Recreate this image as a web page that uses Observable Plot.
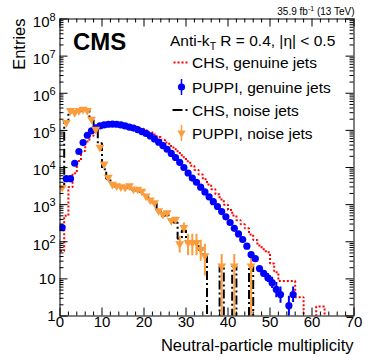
<!DOCTYPE html>
<html><head><meta charset="utf-8">
<script src="https://cdn.jsdelivr.net/npm/d3@7"></script>
<script src="https://cdn.jsdelivr.net/npm/@observablehq/plot@0.6"></script>
<style>
html,body{margin:0;padding:0;background:#fff;}
#chart{width:374px;height:363px;}
</style>
</head><body><div id="chart"></div>
<script>
// ---- data: entries per bin of width 1 (bin i spans [i, i+1)) ----
const chsGenuine = [56, 500, 3000, 7000, 15000, 28000, 50000, 72000, 95000, 117000,
  135000, 145000, 151000, 153000, 151000, 146000, 138000, 129000, 120000, 110000,
  100000, 89000, 78000, 66000, 56000, 47000, 38000, 31000, 24500, 19000,
  14800, 11200, 8500, 6500, 4800, 3500, 2600, 1900, 1380, 1000,
  720, 510, 380, 295, 230, 158, 112, 79, 63, 52,
  26, 15, 8.7, 8.7, 8.7, 8.7, 3.2, 3.2, 0, 0,
  0, 1.8, 1.8];
const puppiGenuine = [240, 5000, 5000, 13000, 27000, 47000, 74000, 97000, 117000, 132000,
  141000, 146000, 148000, 146000, 140000, 132000, 123000, 115000, 105000, 93000,
  83000, 71000, 59000, 48000, 39000, 31000, 24000, 18600, 13800, 10000,
  7100, 5200, 4000, 2950, 2200, 1620, 1200, 890, 650, 470,
  330, 230, 162, 115, 76, 45, 35, 19, 14, 10.7,
  7.9, 5.2, 3.8, 0, 1.9, 3.8];
const puppiGenuineErrBins = [49, 50, 51, 52, 54, 55];
const puppiGenuineErrLo = [8, 5.5, 3.1, 2.2, 0.5, 2.3];
const puppiGenuineErrHi = [14, 11, 8, 6, 3.4, 6];
const chsNoise = [2900, 175000, 330000, 320000, 330000, 360000, 350000, 190000, 100000, 45000,
  9000, 5000, 3500, 3100, 3000, 2800, 3100, 2500, 2400, 2200,
  1700, 1400, 1100, 700, 500, 520, 380, 330, 120, 200,
  95, 95, 95, 60, 42, 0, 0, 0, 22, 0,
  0, 22, 0, 0, 0, 22];
const puppiNoise = [2900, 162000, 340000, 300000, 340000, 370000, 340000, 200000, 107000, 35000,
  12300, 5400, 3500, 3200, 3000, 2900, 3200, 2600, 2600, 2300,
  1700, 1320, 1120, 680, 550, 600, 370, 400, 88, 240,
  95, 95, 95, 63, 42, 0, 0, 0, 22, 0,
  0, 22, 0, 0, 0, 22];
const puppiNoiseErrBins = [28, 29, 30, 31, 32, 33, 34, 38, 41, 45];
const puppiNoiseErrLo = [50, 170, 42, 42, 42, 30, 12, 0.5, 0.5, 0.5];
const puppiNoiseErrHi = [140, 320, 160, 160, 160, 110, 85, 45, 45, 45];

const xTicksMajor = [0, 10, 20, 30, 40, 50, 60, 70];
const yTicksMajor = [1, 10, 1e2, 1e3, 1e4, 1e5, 1e6, 1e7, 1e8];

const legendTitle = ["Anti-k", "T", " R = 0.4, |\u03b7| < 0.5"];
const legendLabels = ["CHS, genuine jets", "PUPPI, genuine jets", "CHS, noise jets", "PUPPI, noise jets"];
const xTitle = "Neutral-particle multiplicity";
const yTitle = "Entries";
const lumiText = ["35.9 fb", "-1", " (13 TeV)"];
const expText = "CMS";

// ---- derived tables ----
const FONT = "'Liberation Sans', Arial, Helvetica, sans-serif";
const RED = "#ff0000", BLUE = "#0000ff", ORANGE = "#fb9d3c";
const FLOOR = 0.2; // empty bins drawn below the axis (clipped)
function steps(vals, upTo) {
  const pts = [];
  for (let i = 0; i < upTo; i++) {
    const v = i < vals.length && vals[i] > 0 ? vals[i] : FLOOR;
    pts.push({x: i, y: v}, {x: i + 1, y: v});
  }
  return pts;
}
const pointsOf = vals => vals.map((v, i) => ({x: i + 0.5, y: v})).filter(d => d.y > 0);
const errsOf = (bins, lo, hi) => bins.map((b, k) => ({x: b + 0.5, lo: lo[k], hi: hi[k]}));
const yMinor = [];
for (let d = 0; d < 8; d++) for (let m = 2; m <= 9; m++) yMinor.push(m * Math.pow(10, d));
const xMinor = d3.range(0, 71, 2).filter(v => v % 10 !== 0);

const triDown = {draw(ctx, size) {
  const y = Math.sqrt(size / (Math.sqrt(3) * 3));
  ctx.moveTo(0, 2 * y); ctx.lineTo(-Math.sqrt(3) * y, -y); ctx.lineTo(Math.sqrt(3) * y, -y); ctx.closePath();
}};

const W = 374, H = 363, ML = 59.5, MR = 20.5, MT = 18.5, MB = 47.5;
const FW = W - ML - MR, FH = H - MT - MB;

function annotations(index, scales, values, dims) {
  const L = dims.marginLeft, T = dims.marginTop, R = dims.width - dims.marginRight, B = dims.height - dims.marginBottom;
  const g = d3.create("svg:g").attr("font-family", FONT).attr("fill", "black").attr("text-anchor", "start");
  // lumi
  const lt = g.append("text").attr("x", R + 1).attr("y", T - 4).attr("text-anchor", "end").attr("font-size", 10);
  lt.append("tspan").text(lumiText[0]);
  lt.append("tspan").attr("font-size", 7).attr("dy", -4).text(lumiText[1]);
  lt.append("tspan").attr("dy", 4).text(lumiText[2]);
  // CMS
  g.append("text").attr("x", L + 13.5).attr("y", T + 31).attr("font-size", 24).attr("font-weight", "bold").text(expText);
  // legend title
  const tt = g.append("text").attr("x", L + 110.5).attr("y", T + 27).attr("font-size", 15.5);
  tt.append("tspan").text(legendTitle[0]);
  tt.append("tspan").attr("font-size", 10.5).attr("dy", 4).text(legendTitle[1]);
  tt.append("tspan").attr("dy", -4).text(legendTitle[2]);
  // entries
  const rows = [44, 68.5, 91.5, 114.5];
  const sx = L + 122, tx = L + 132.5;
  rows.forEach((ry, k) => {
    g.append("text").attr("x", tx).attr("y", T + ry + 5.5).attr("font-size", 15.5).text(legendLabels[k]);
  });
  const y0 = T + rows[0];
  g.append("line").attr("x1", sx - 8).attr("x2", sx + 7).attr("y1", y0).attr("y2", y0)
    .attr("stroke", RED).attr("stroke-width", 2).attr("stroke-dasharray", "2,2");
  const y1 = T + rows[1];
  g.append("line").attr("x1", sx).attr("x2", sx).attr("y1", y1 - 8).attr("y2", y1 + 8).attr("stroke", BLUE).attr("stroke-width", 1.5);
  g.append("circle").attr("cx", sx).attr("cy", y1).attr("r", 3.6).attr("fill", BLUE);
  const y2 = T + rows[2];
  g.append("line").attr("x1", sx - 9).attr("x2", sx + 7).attr("y1", y2).attr("y2", y2)
    .attr("stroke", "black").attr("stroke-width", 2).attr("stroke-dasharray", "10,3,2,3");
  const y3 = T + rows[3];
  g.append("line").attr("x1", sx).attr("x2", sx).attr("y1", y3 - 8).attr("y2", y3 + 8).attr("stroke", ORANGE).attr("stroke-width", 1.5);
  const p = d3.path(); triDown.draw(p, 30);
  g.append("path").attr("d", p.toString()).attr("transform", `translate(${sx},${y3})`).attr("fill", ORANGE);
  // axis titles
  g.append("text").attr("x", R).attr("y", B + 35.5).attr("text-anchor", "end").attr("font-size", 16.5).text(xTitle);
  g.append("text").attr("transform", `translate(${L - 34.5},${T}) rotate(-90)`).attr("text-anchor", "end").attr("font-size", 16.5).text(yTitle);
  return g.node();
}

const chart = Plot.plot({
  width: W, height: H,
  marginLeft: ML, marginRight: MR, marginTop: MT, marginBottom: MB,
  style: {fontFamily: FONT, background: "white", color: "black"},
  x: {domain: [0, 70], axis: null},
  y: {type: "log", domain: [1, 1e8], axis: null},
  marks: [
    // histograms
    Plot.line(steps(chsNoise, 70), {x: "x", y: "y", stroke: "black", strokeWidth: 2, strokeDasharray: "9,3,2,3", strokeLinecap: "butt", strokeLinejoin: "miter", clip: true}),
    Plot.line(steps(chsGenuine, 70), {x: "x", y: "y", stroke: RED, strokeWidth: 2, strokeDasharray: "2,2", strokeLinecap: "butt", strokeLinejoin: "miter", clip: true}),
    // error bars
    Plot.ruleX(errsOf(puppiNoiseErrBins, puppiNoiseErrLo, puppiNoiseErrHi), {x: "x", y1: "lo", y2: "hi", stroke: ORANGE, strokeWidth: 2, clip: true}),
    Plot.ruleX(errsOf(puppiGenuineErrBins, puppiGenuineErrLo, puppiGenuineErrHi), {x: "x", y1: "lo", y2: "hi", stroke: BLUE, strokeWidth: 2, clip: true}),
    // points
    Plot.dot(pointsOf(puppiGenuine), {x: "x", y: "y", r: 3.6, fill: BLUE, stroke: "none", clip: true}),
    Plot.dot(pointsOf(puppiNoise), {x: "x", y: "y", r: 3.3, symbol: triDown, fill: ORANGE, stroke: "none", clip: true}),
    // ticks (inward, all four sides)
    Plot.tickY(yTicksMajor, {y: d => d, insetRight: FW - 8, stroke: "black"}),
    Plot.tickY(yTicksMajor, {y: d => d, insetLeft: FW - 8, stroke: "black"}),
    Plot.tickY(yMinor, {y: d => d, insetRight: FW - 4, stroke: "black"}),
    Plot.tickY(yMinor, {y: d => d, insetLeft: FW - 4, stroke: "black"}),
    Plot.tickX(xTicksMajor, {x: d => d, insetTop: FH - 8, stroke: "black"}),
    Plot.tickX(xTicksMajor, {x: d => d, insetBottom: FH - 8, stroke: "black"}),
    Plot.tickX(xMinor, {x: d => d, insetTop: FH - 4, stroke: "black"}),
    Plot.tickX(xMinor, {x: d => d, insetBottom: FH - 4, stroke: "black"}),
    Plot.frame({stroke: "black", strokeWidth: 1}),
    // tick labels
    Plot.text(yTicksMajor.filter(v => v >= 100), {y: d => d, frameAnchor: "left", text: () => "10", textAnchor: "end", dx: -10.5, dy: 3, fontSize: 15, fill: "black"}),
    Plot.text(yTicksMajor.filter(v => v >= 100), {y: d => d, frameAnchor: "left", text: d => String(Math.round(Math.log10(d))), textAnchor: "end", dx: -4.5, dy: -2, fontSize: 11, fill: "black"}),
    Plot.text(yTicksMajor.filter(v => v < 100), {y: d => d, frameAnchor: "left", text: d => String(d), textAnchor: "end", dx: -4.5, dy: 0.5, fontSize: 15, fill: "black"}),
    Plot.text(xTicksMajor, {x: d => d, frameAnchor: "bottom", text: d => String(d), dy: 10.5, fontSize: 15, fill: "black"}),
    annotations
  ]
});
document.getElementById("chart").appendChild(chart);
</script>
</body></html>
